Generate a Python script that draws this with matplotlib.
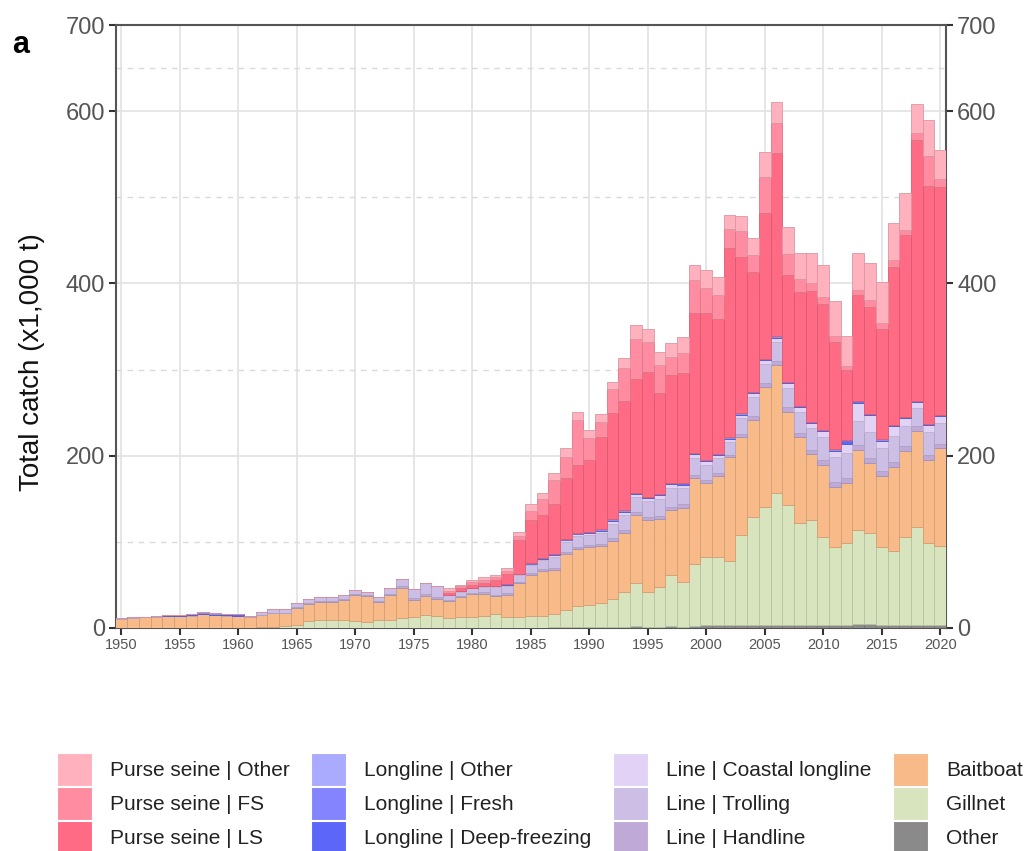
import matplotlib
matplotlib.use("Agg")
import matplotlib.pyplot as plt
from matplotlib.patches import Patch
import numpy as np

plt.rcParams['font.family'] = ['Liberation Sans', 'DejaVu Sans']

years = list(range(1950, 2021))

other = [0.3]*28 + [0.5]*7 + [0.5, 0.5, 0.7, 0.8, 1, 1, 1, 1.2, 1.5, 1.8, 1.5, 1.5, 2, 1.7, 2.2,
         3, 3, 3, 3, 3, 3.5, 4, 4, 4, 4, 4, 4, 4, 4.5, 4.5, 4, 4, 4, 4, 4, 4]
gillnet = [0, 0, 0, 0, 0, 0, 0, 0, 0, 0, 0, 0, 0.5, 1, 2, 3, 8, 9, 9, 9,
           8, 7, 8.5, 9.5, 11, 13, 15, 14, 11.5, 12.5, 12.5, 13.5, 15.5, 12.5, 12.5, 13.5, 13.5, 15.5, 20, 24,
           26, 28, 32, 40, 50, 40, 46, 60, 52, 72, 79, 79, 75, 105, 126, 136.5, 153, 138.7, 118, 121.3,
           102, 90.4, 95, 109.2, 105.5, 89.6, 85.7, 102, 112.8, 94.2, 91.1]
baitboat = [10.5, 11.7, 12.2, 12.7, 13.2, 13.2, 14.2, 15.7, 14.7, 14.2, 13.7, 12.2, 14.2, 15.7, 14.7, 19.7, 19.2, 20.7, 20.7, 23.2,
            29.7, 30.2, 21.2, 28.2, 35.7, 19.2, 21.7, 19.2, 19.3, 22.6, 27, 26, 21, 25.3, 38.8, 48, 52.5, 51.3, 65.2, 66.3,
            67.4, 66.5, 67.3, 68.5, 79.2, 83.8, 78.5, 74.5, 85.8, 99.5, 86, 94.4, 120, 114, 112.4, 140, 148.3, 108.3, 99.3, 76.7,
            83.2, 69.6, 69, 92.9, 81.1, 82.8, 96.8, 99.8, 112.2, 96.8, 113.4]
line_handline = [0]*11 + [0.2, 0.5, 0.8, 0.8, 0.8, 1, 0.8, 1, 0.8, 1, 0.7, 1, 1.3, 1.5, 2, 2.5, 2.5, 1, 1.2,
                 1, 1.3, 1.8, 1.9, 1.7, 2, 2, 2.5, 2.5, 2.7, 2.5, 2.5, 3.5, 3.5, 3.5, 3.6, 4, 4.5, 4, 4,
                 4, 3.5, 3, 3.5, 4.5, 4.5, 4.5, 5, 5, 5, 5.5, 6, 6, 6, 6, 6, 6, 5, 5, 6, 5]
line_trolling = [0.5]*11 + [1.3, 2.5, 4.2, 4.7, 4.7, 5, 4.7, 5, 4.7, 5, 3.8, 5, 7.2, 8.5, 10.5, 13, 12.5, 5.5, 5.5,
                 5, 6.5, 8.5, 9, 8, 9, 10, 13, 11.5, 12.5, 11.5, 12.5, 17, 18, 17.5, 18, 20, 21.5, 19, 20,
                 17.5, 17, 15.5, 18, 22, 21.5, 22, 23, 24, 25, 27, 28, 29, 28, 30, 27, 30, 24, 21, 26, 24]
line_coastal = [0]*29 + [0.5, 0.5, 0.7, 1, 1, 1, 1, 1.5, 2, 2, 2.5, 2.1, 2.5, 3.5, 3.5, 3.5, 4, 4.3, 4.7, 4, 4.3,
                4, 3.6, 3.3, 4.2, 4.9, 5, 5.2, 5.5, 5.9, 6, 6.6, 7.9, 10.2, 20.3, 19.8, 8.1, 11.6, 9, 7.4, 8.3, 8.2]
ll_deep = [0, 0.3, 0.3, 0.5, 0.8, 0.8, 1.2, 1.2, 1.2, 1.2, 1.2, 0.5, 0.3, 0, 0, 0, 0, 0, 0.5, 0,
           0, 0, 0, 0, 0, 0, 0, 0, 0.5, 0.5, 0.5, 0.5, 0.5, 0.5, 0.5, 0.7, 0.7, 0.7, 0.7, 0.7,
           1, 1, 1, 1, 1, 1, 1, 1, 1, 1, 1, 1, 1, 1, 1, 1, 1, 1, 1, 1,
           1, 1, 3.5, 2, 1, 1, 1, 1, 1, 1, 1]
ll_fresh = [0]*35 + [0.2]*5 + [0.3]*22 + [1, 0.6] + [0.3]*7
ll_other = [0, 0.2, 0, 0, 0.2, 0.2, 0.3, 0.3, 0.3, 0.3, 0.3] + [0]*24 + [0.1]*5 + [0.2]*22 + [0.5, 0.4] + [0.2]*7
ps_ls = [0]*28 + [2.7, 3.7, 3, 3.5, 7.2, 12, 39, 50, 50, 58, 71, 79,
         83, 107.5, 124, 126.5, 132, 145.2, 117.2, 125, 127.5, 161.8, 171, 156.3, 219.5, 181.1, 139.4, 169.7, 213.3, 123.8, 132.8, 152.1,
         146.3, 125, 81.3, 122.7, 123.9, 127.7, 183.9, 210.9, 302.6, 276.3, 264.4]
ps_fs = [0]*28 + [2.5, 1.5, 3, 3.5, 3, 3.8, 5, 11, 19, 28, 25, 52,
         26, 17.5, 27, 38.5, 47, 33.9, 32.3, 21.3, 24.1, 38.7, 28.3, 28.3, 22, 31, 19.3, 41.8, 34.9, 24.4, 14.3, 9.3,
         8.5, 6.6, 4.7, 5.8, 8.5, 7, 7.7, 5.8, 8.5, 34.9, 9.3]
ps_other = [0]*28 + [2.5, 1.5, 2.7, 2.8, 3, 3.5, 5, 8, 7, 7.5, 9.5, 10,
            8.5, 8.9, 8, 12.5, 15.8, 15.2, 15.5, 16.2, 17.8, 17.4, 21.3, 20.5, 16.7, 17, 20.2, 29, 24.3, 30.9, 30.9, 34.8,
            36.8, 41, 34.8, 42.6, 43.3, 48.3, 42.6, 43.4, 33.3, 41.8, 34.1]

series = [
    ("Other", other, "#8a8a8a"),
    ("Gillnet", gillnet, "#d7e4be"),
    ("Baitboat", baitboat, "#f7ba88"),
    ("Line | Handline", line_handline, "#bfaad7"),
    ("Line | Trolling", line_trolling, "#cdbee5"),
    ("Line | Coastal longline", line_coastal, "#e2d3f6"),
    ("Longline | Deep-freezing", ll_deep, "#5c66f8"),
    ("Longline | Fresh", ll_fresh, "#8484ff"),
    ("Longline | Other", ll_other, "#aaaaff"),
    ("Purse seine | LS", ps_ls, "#ff6b84"),
    ("Purse seine | FS", ps_fs, "#ff8ca0"),
    ("Purse seine | Other", ps_other, "#ffb2be"),
]

def darker(c, f=0.85):
    rgb = np.array(matplotlib.colors.to_rgb(c))
    return tuple(rgb * f)

fig = plt.figure(figsize=(10.27, 8.51), dpi=100)
ax = fig.add_axes([116/1027, 1-628/851, (946-116)/1027, (628-25)/851])

bottom = np.zeros(len(years))
handles = {}
for name, vals, col in series:
    v = np.array(vals, dtype=float)
    ax.bar(years, v, width=1.0, bottom=bottom, color=col, edgecolor=darker(col), linewidth=0.6, zorder=3)
    bottom += v
    handles[name] = Patch(facecolor=col, edgecolor='white', linewidth=0.8)

ax.set_xlim(1949.55, 2020.5)
ax.set_ylim(0, 700)
ax.set_yticks([0, 200, 400, 600, 700])
ax.set_yticks([100, 300, 500, 650], minor=True)
ax.set_xticks(range(1950, 2021, 5))
ax.grid(True, which='major', color='#e2e2e2', linewidth=1.2, zorder=0)
ax.grid(True, which='minor', axis='y', color='#dadada', linewidth=1.0, linestyle=(0, (4, 4)), zorder=0)
ax.set_axisbelow(True)
ax.tick_params(axis='y', which='minor', length=0)
ax.tick_params(axis='y', which='major', labelsize=17, colors='#333333', labelcolor='#555555', length=5, width=1.5,
               right=True, labelright=True, pad=3)
ax.tick_params(axis='x', which='major', labelsize=10.5, colors='#333333', labelcolor='#555555', length=5, width=1.5, pad=2)
for s in ['left', 'right', 'bottom', 'top']:
    ax.spines[s].set_color('#555555')
    ax.spines[s].set_linewidth(1.5)

fig.text(32/1027, 1-362/851, "Total catch (x1,000 t)", fontsize=20, color='#111111',
         rotation=90, ha='center', va='center')
fig.text(12/1027, 1-45/851, "a", fontsize=22, fontweight='bold', va='center', ha='left')

order = ["Purse seine | Other", "Purse seine | FS", "Purse seine | LS",
         "Longline | Other", "Longline | Fresh", "Longline | Deep-freezing",
         "Line | Coastal longline", "Line | Trolling", "Line | Handline",
         "Baitboat", "Gillnet", "Other"]
fig.legend([handles[k] for k in order], order, ncol=4, loc='upper left',
           bbox_to_anchor=(57/1027, 1-753/851), frameon=False, fontsize=15,
           handlelength=1.68, handleheight=2.06, handletextpad=0.85, labelspacing=0.05,
           columnspacing=1.05, borderpad=0, borderaxespad=0, labelcolor='#222222')

fig.savefig("out.png", dpi=100)
